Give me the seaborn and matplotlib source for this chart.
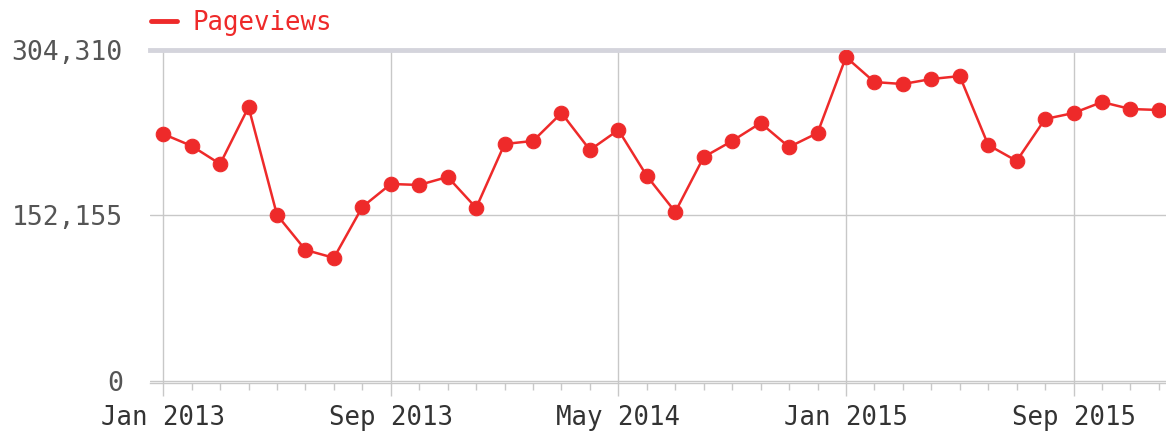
import matplotlib
matplotlib.use("Agg")
import matplotlib.pyplot as plt
from matplotlib.lines import Line2D
from matplotlib.ticker import MultipleLocator
import pandas as pd
import seaborn as sns

# Monthly pageviews, Jan 2013 - Dec 2015
months = pd.date_range("2013-01-01", periods=36, freq="MS").strftime("%b %Y").tolist()
pageviews = [227100, 216100, 199500, 251900, 152600, 120400, 113100, 160000,
             181100, 180200, 187600, 159100, 217900, 220700, 246400, 212400,
             230800, 188500, 155400, 205900, 220700, 237200, 215100, 228000,
             297900, 274900, 273100, 277700, 280400, 217000, 202300, 240900,
             246400, 256500, 250100, 249200]
y_ticks = [0, 152155, 304310]
y_labels = ["0", "152,155", "304,310"]
x_tick_pos = [0, 8, 16, 24, 32]
x_tick_labels = [months[i] for i in x_tick_pos]

df = pd.DataFrame({"idx": range(len(months)), "month": months, "Pageviews": pageviews})

sns.set_style("white")
plt.rcParams["font.family"] = ["DejaVu Sans Mono"]

red = "#ee2a2a"
grid_c = "#c8c8c8"

fig = plt.figure(figsize=(11.66, 4.32), dpi=100)
ax = fig.add_axes([0.129, 0.114, 0.871, 0.77])

sns.lineplot(data=df, x="idx", y="Pageviews", ax=ax, color=red, marker="o",
             markersize=10.5, markeredgecolor=red, linewidth=1.8, zorder=3)

ax.set_xlim(-0.45, 35.25)
ax.set_ylim(-1840, 304310)

ax.set_yticks(y_ticks)
ax.set_yticklabels(y_labels)
ax.set_xticks(x_tick_pos)
ax.set_xticklabels(x_tick_labels)
ax.xaxis.set_minor_locator(MultipleLocator(1))

ax.grid(True, axis="both", which="major", color=grid_c, linewidth=1.0)
for s in ["left", "right"]:
    ax.spines[s].set_visible(False)
ax.spines["top"].set_color("#d4d4dc")
ax.spines["top"].set_linewidth(3.5)
ax.spines["bottom"].set_color(grid_c)
ax.spines["bottom"].set_linewidth(1)

ax.tick_params(axis="y", length=0, pad=20, labelsize=19, labelcolor="#555555")
ax.tick_params(axis="x", which="major", length=9, width=1, color=grid_c,
               pad=7, labelsize=18.5, labelcolor="#333333", direction="out", bottom=True)
ax.tick_params(axis="x", which="minor", length=5, width=1, color=grid_c,
               direction="out", bottom=True)
ax.set_xlabel("")
ax.set_ylabel("")

handle = Line2D([0], [0], color=red, linewidth=3.5)
leg = ax.legend([handle], ["Pageviews"], loc="lower left", bbox_to_anchor=(-0.012, 1.005),
                frameon=False, handlelength=1.0, handletextpad=0.6, fontsize=18.5,
                borderaxespad=0.1)
for t in leg.get_texts():
    t.set_color(red)

fig.savefig("out.png", dpi=100)
